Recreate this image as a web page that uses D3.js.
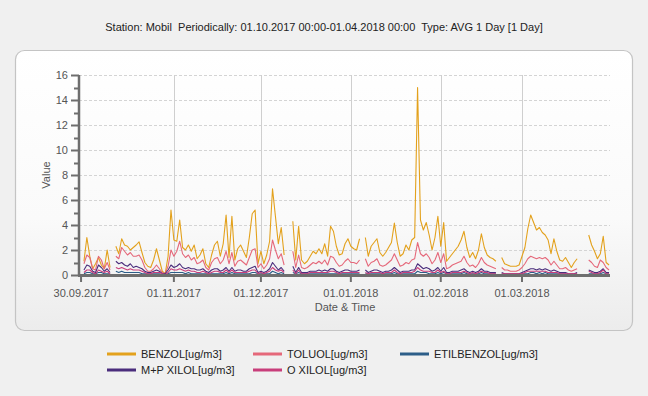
<!DOCTYPE html>
<html><head><meta charset="utf-8">
<script src="https://cdn.jsdelivr.net/npm/d3@7"></script>
<style>
html,body{margin:0;padding:0;background:#f0f0f0;}
svg{display:block;font-family:Arial,"Liberation Sans",sans-serif;}
</style></head>
<body><svg id="c" width="648" height="396"></svg>
<script>
const titleText = "Station: Mobil  Periodically: 01.10.2017 00:00-01.04.2018 00:00  Type: AVG 1 Day [1 Day]";
const firstDay = "2017-10-01", endDay = "2018-04-01";
const domainStart = "2017-09-29T07:00", domainEnd = "2018-03-31T08:00";
const xTickDates = ["2017-09-30","2017-11-01","2017-12-01","2018-01-01","2018-02-01","2018-03-01"];
const xTickLabels = ["30.09.2017","01.11.2017","01.12.2017","01.01.2018","01.02.2018","01.03.2018"];
const yTicks = [0,2,4,6,8,10,12,14,16];
const seriesNames = ["BENZOL[ug/m3]","TOLUOL[ug/m3]","ETILBENZOL[ug/m3]","M+P XILOL[ug/m3]","O XILOL[ug/m3]"];
const seriesColors = ["#e3a11c","#e5687a","#2d5e89","#4a2d7c","#c83e7b"];

const benzol = [1.1,3.0,1.5,0.5,0.9,1.4,0.8,0.5,2.0,0.6, null,
 2.3,1.7,2.9,2.4,2.3,2.0,2.2,2.4,2.65,1.8,1.0,0.7,0.6,1.2,2.1,1.2,0.3,0.1,1.5,
 5.2,2.8,2.7,4.4,2.2,2.0,2.4,1.9,2.4,1.3,1.6,2.1,0.9,0.6,1.6,2.4,2.7,1.5,2.5,4.8,1.4,4.7,1.2,2.1,2.4,1.9,1.4,3.0,4.9,5.2,0.9,1.9,0.9,1.6,2.7,6.9,4.7,2.5,3.8,1.6,
 null,null,
 4.3,1.2,3.9,1.2,0.9,1.1,1.5,1.9,1.7,2.1,1.7,2.5,1.5,3.9,3.5,2.3,1.6,1.7,2.5,2.9,2.3,2.1,2.0,2.9,
 null,
 3.0,1.5,2.3,2.6,2.9,1.8,1.5,1.8,2.2,2.6,4.15,2.6,1.5,1.7,2.4,2.0,2.8,3.0,15.0,4.4,3.6,4.2,3.2,2.0,3.0,4.7,2.3,4.2,1.1,1.4,1.7,2.0,2.3,2.8,3.5,2.2,1.4,1.8,1.3,2.0,3.3,2.2,1.6,1.4,1.3,1.1,
 null,
 1.4,0.9,0.8,0.7,0.7,0.7,0.8,1.5,2.2,3.7,4.8,4.2,3.6,3.8,3.4,3.2,2.8,1.7,2.9,1.9,1.2,1.1,1.4,1.0,0.6,1.0,1.3,
 null,null,null,
 3.2,2.4,1.9,1.3,1.7,3.1,1.0,0.8];

const toluol = [0.9,1.6,1.4,0.5,0.4,1.5,1.2,0.5,1.0,0.4, null,
 1.5,1.3,2.2,1.9,1.6,1.8,1.5,1.5,1.6,1.2,0.6,0.3,0.3,0.5,0.8,0.5,0.2,0.1,0.7,
 2.0,1.5,1.9,2.7,1.7,1.4,1.6,1.2,1.4,0.9,1.0,1.2,0.6,0.4,1.0,1.3,1.4,0.9,1.2,1.9,0.9,1.8,0.7,1.1,1.2,1.0,0.8,1.4,2.0,2.1,0.6,0.9,0.5,0.8,1.3,2.8,2.0,1.3,1.7,0.8,
 null,null,
 1.9,0.6,1.6,0.6,0.5,0.6,0.8,1.0,0.9,1.1,0.9,1.2,0.8,1.5,1.4,1.0,0.7,0.8,1.1,1.3,1.0,1.0,0.9,1.2,
 null,
 1.3,0.7,1.0,1.1,1.3,0.8,0.7,0.8,1.0,1.2,1.7,1.2,0.7,0.8,1.0,0.9,1.2,1.3,2.6,1.7,1.5,1.7,1.4,0.9,1.2,1.8,1.0,1.7,0.5,0.6,0.8,0.9,1.0,1.1,1.5,1.0,0.7,0.8,0.6,0.9,1.4,1.0,0.8,0.7,0.6,0.5,
 null,
 0.6,0.4,0.4,0.3,0.3,0.3,0.4,0.6,0.9,1.3,1.5,1.4,1.3,1.4,1.3,1.4,1.2,0.8,1.1,0.8,0.5,0.5,0.6,0.4,0.3,0.4,0.5,
 null,null,null,
 1.2,1.0,0.7,0.6,1.2,1.0,0.6,0.4];

const etilbenzol = [0.1,0.2,0.2,0.1,0.1,0.2,0.2,0.1,0.1,0.1, null,
 0.3,0.2,0.3,0.2,0.2,0.2,0.2,0.2,0.2,0.1,0.1,0.1,0.1,0.1,0.1,0.1,0.0,0.0,0.1,
 0.2,0.2,0.2,0.2,0.2,0.1,0.2,0.1,0.1,0.1,0.1,0.1,0.1,0.1,0.1,0.1,0.1,0.1,0.1,0.2,0.1,0.2,0.1,0.1,0.1,0.1,0.1,0.1,0.2,0.2,0.1,0.1,0.1,0.1,0.1,0.3,0.2,0.1,0.2,0.1,
 null,null,
 0.2,0.1,0.2,0.1,0.1,0.1,0.1,0.1,0.1,0.1,0.1,0.1,0.1,0.1,0.1,0.1,0.1,0.1,0.1,0.1,0.1,0.1,0.1,0.1,
 null,
 0.1,0.1,0.1,0.1,0.1,0.1,0.1,0.1,0.1,0.1,0.2,0.1,0.1,0.1,0.1,0.1,0.1,0.1,0.3,0.2,0.2,0.2,0.1,0.1,0.1,0.2,0.1,0.2,0.1,0.1,0.1,0.1,0.1,0.1,0.2,0.1,0.1,0.1,0.1,0.1,0.2,0.1,0.1,0.1,0.1,0.1,
 null,
 0.1,0.0,0.0,0.0,0.0,0.0,0.0,0.1,0.1,0.1,0.2,0.2,0.1,0.2,0.1,0.2,0.1,0.1,0.1,0.1,0.1,0.1,0.1,0.0,0.0,0.0,0.1,
 null,null,null,
 0.1,0.1,0.1,0.1,0.1,0.2,0.1,0.1];

const mpXilol = [0.4,0.8,0.7,0.3,0.2,0.8,0.6,0.3,0.5,0.2, null,
 1.1,0.9,1.0,0.8,0.7,0.9,0.6,0.7,0.6,0.5,0.3,0.2,0.2,0.3,0.4,0.3,0.1,0.1,0.4,
 0.8,0.6,0.7,0.9,0.6,0.5,0.6,0.5,0.5,0.4,0.4,0.5,0.3,0.2,0.4,0.5,0.5,0.3,0.4,0.6,0.3,0.6,0.3,0.4,0.4,0.3,0.3,0.5,0.6,0.7,0.2,0.3,0.2,0.3,0.5,1.0,0.7,0.4,0.6,0.3,
 null,null,
 0.7,0.2,0.6,0.2,0.2,0.2,0.3,0.3,0.3,0.4,0.3,0.4,0.3,0.5,0.5,0.3,0.2,0.3,0.4,0.4,0.3,0.3,0.3,0.4,
 null,
 0.4,0.2,0.3,0.4,0.4,0.3,0.2,0.3,0.3,0.4,0.6,0.4,0.2,0.3,0.3,0.3,0.4,0.4,0.9,0.7,0.5,0.6,0.5,0.3,0.4,0.6,0.3,0.6,0.2,0.2,0.3,0.3,0.3,0.4,0.5,0.3,0.2,0.3,0.2,0.3,0.5,0.3,0.3,0.2,0.2,0.2,
 null,
 0.2,0.1,0.1,0.1,0.1,0.1,0.1,0.2,0.3,0.4,0.5,0.5,0.4,0.5,0.4,0.5,0.4,0.3,0.4,0.3,0.2,0.2,0.2,0.1,0.1,0.1,0.2,
 null,null,null,
 0.4,0.3,0.2,0.2,0.3,0.5,0.2,0.2];

const oXilol = [0.2,0.4,0.4,0.2,0.1,0.4,0.3,0.2,0.3,0.1, null,
 0.6,0.5,0.6,0.5,0.4,0.5,0.4,0.4,0.4,0.3,0.2,0.1,0.1,0.2,0.2,0.2,0.1,0.0,0.2,
 0.5,0.4,0.4,0.5,0.4,0.3,0.4,0.3,0.3,0.2,0.2,0.3,0.2,0.1,0.2,0.3,0.3,0.2,0.2,0.4,0.2,0.4,0.2,0.2,0.2,0.2,0.2,0.3,0.4,0.4,0.1,0.2,0.1,0.2,0.3,0.6,0.4,0.3,0.4,0.2,
 null,null,
 0.4,0.1,0.4,0.1,0.1,0.1,0.2,0.2,0.2,0.2,0.2,0.2,0.2,0.3,0.3,0.2,0.1,0.2,0.2,0.2,0.2,0.2,0.2,0.2,
 null,
 0.2,0.1,0.2,0.2,0.2,0.2,0.1,0.2,0.2,0.2,0.4,0.2,0.1,0.2,0.2,0.2,0.2,0.3,0.6,0.4,0.3,0.3,0.3,0.2,0.2,0.4,0.2,0.3,0.1,0.1,0.2,0.2,0.2,0.2,0.3,0.2,0.1,0.2,0.1,0.2,0.3,0.2,0.2,0.1,0.1,0.1,
 null,
 0.1,0.1,0.1,0.1,0.1,0.1,0.1,0.1,0.2,0.3,0.3,0.3,0.3,0.3,0.3,0.3,0.2,0.2,0.2,0.2,0.1,0.1,0.1,0.1,0.1,0.1,0.1,
 null,null,null,
 0.3,0.2,0.1,0.1,0.2,0.4,0.1,0.1];

const seriesValues = [benzol, toluol, etilbenzol, mpXilol, oXilol];

const svg = d3.select("#c");
const W = 648, H = 396;
const plot = {left:79, right:610, top:75, bottom:275};

// panel
const defs = svg.append("defs");
const grad = defs.append("linearGradient").attr("id","pg").attr("x1",0).attr("y1",0).attr("x2",0).attr("y2",1);
grad.append("stop").attr("offset","0%").attr("stop-color","#ffffff");
grad.append("stop").attr("offset","60%").attr("stop-color","#fafafa");
grad.append("stop").attr("offset","100%").attr("stop-color","#ececec");
svg.append("rect").attr("x",15.5).attr("y",50.5).attr("width",617).attr("height",280)
  .attr("rx",9).attr("ry",9).attr("fill","url(#pg)").attr("stroke","#c4c4c4").attr("stroke-width",1.2);

// title
svg.append("text").attr("x",W/2).attr("y",31).attr("text-anchor","middle")
  .attr("font-size",11).attr("fill","#222").attr("xml:space","preserve").text(titleText);

const parse = d3.isoParse;
const x = d3.scaleTime().domain([new Date(domainStart), new Date(domainEnd)]).range([plot.left, plot.right]);
const y = d3.scaleLinear().domain([0,16]).range([plot.bottom, plot.top]);

// grid
const g = svg.append("g");
g.selectAll("line.hg").data(yTicks.filter(v=>v>0)).join("line")
  .attr("x1",plot.left).attr("x2",plot.right).attr("y1",d=>Math.round(y(d))+0.5).attr("y2",d=>Math.round(y(d))+0.5)
  .attr("stroke","#d4d4d4").attr("stroke-dasharray","3,2");
g.selectAll("line.vg").data(xTickDates.slice(1)).join("line")
  .attr("x1",d=>Math.round(x(new Date(d)))+0.5).attr("x2",d=>Math.round(x(new Date(d)))+0.5)
  .attr("y1",plot.top).attr("y2",plot.bottom).attr("stroke","#cfcfcf");

// lines
const days = d3.timeDay.range(new Date(2017,9,1), new Date(2018,3,1));
const line = d3.line().defined(d=>d[1]!=null).x(d=>x(d[0])).y(d=>y(d[1]));
seriesValues.forEach((vals,i)=>{
  const pts = days.map((dt,k)=>[dt, vals[k]]);
  svg.append("path").datum(pts).attr("d",line).attr("fill","none")
    .attr("stroke",seriesColors[i]).attr("stroke-width",1.1).attr("stroke-linejoin","round");
});

// y axis
const yAxis = d3.axisLeft(y).tickValues(d3.range(0,17,1)).tickSize(0).tickFormat("");
const ya = svg.append("g");
ya.append("line").attr("x1",plot.left).attr("x2",plot.left).attr("y1",plot.top).attr("y2",plot.bottom+1)
  .attr("stroke","#6e6e6e").attr("stroke-width",2.5);
ya.selectAll("line.t").data(d3.range(0,17,1)).join("line")
  .attr("x1",d=> d%2===0 ? plot.left-8 : plot.left-5).attr("x2",plot.left)
  .attr("y1",d=>Math.round(y(d))+0.5).attr("y2",d=>Math.round(y(d))+0.5)
  .attr("stroke","#6e6e6e").attr("stroke-width",2);
ya.selectAll("text").data(yTicks).join("text")
  .attr("x",plot.left-11).attr("y",d=>y(d)+4).attr("text-anchor","end")
  .attr("font-size",11).attr("fill","#555").text(d=>d);

// x axis
const xa = svg.append("g");
xa.append("line").attr("x1",plot.left-1).attr("x2",plot.right).attr("y1",plot.bottom+0.5).attr("y2",plot.bottom+0.5)
  .attr("stroke","#6e6e6e").attr("stroke-width",3);
xa.selectAll("line.t").data(xTickDates).join("line")
  .attr("x1",d=>x(new Date(d+"T00:00"))).attr("x2",d=>x(new Date(d+"T00:00")))
  .attr("y1",plot.bottom).attr("y2",plot.bottom+7).attr("stroke","#6e6e6e").attr("stroke-width",2);
xa.selectAll("text").data(xTickDates).join("text")
  .attr("x",d=>x(new Date(d+"T00:00"))).attr("y",297).attr("text-anchor","middle")
  .attr("font-size",11).attr("fill","#555").text((d,i)=>xTickLabels[i]);

// axis titles
svg.append("text").attr("transform","translate(50,175) rotate(-90)").attr("text-anchor","middle")
  .attr("font-size",11).attr("fill","#555").text("Value");
svg.append("text").attr("x",345).attr("y",311).attr("text-anchor","middle")
  .attr("font-size",11).attr("fill","#555").text("Date & Time");

// legend
const legX = [107,253,400], legY = [354,370];
seriesNames.forEach((n,i)=>{
  const cx = legX[i%3], cy = legY[Math.floor(i/3)];
  svg.append("line").attr("x1",cx).attr("x2",cx+29).attr("y1",cy).attr("y2",cy)
    .attr("stroke",seriesColors[i]).attr("stroke-width",3);
  svg.append("text").attr("x",cx+34).attr("y",cy+4).attr("font-size",11).attr("fill","#222").text(n);
});
</script></body></html>
